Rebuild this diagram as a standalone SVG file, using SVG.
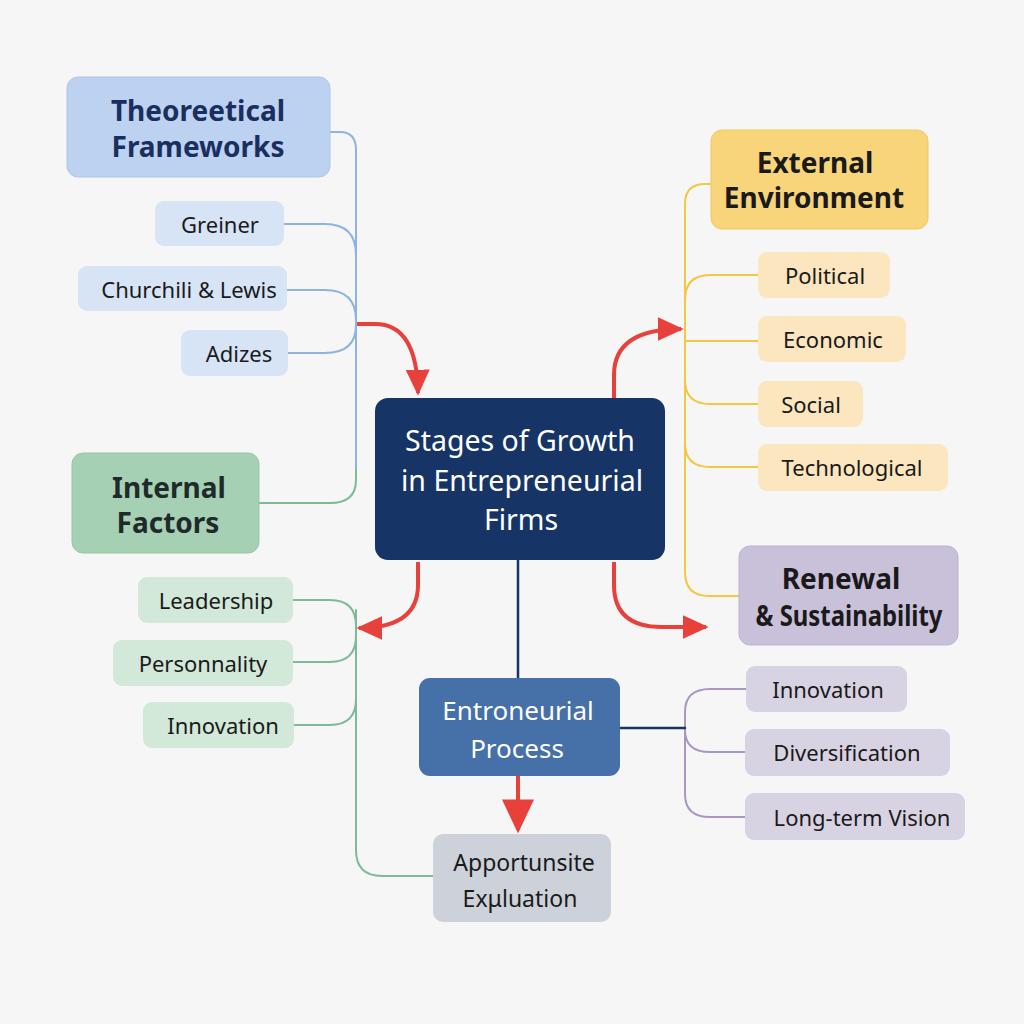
<svg xmlns="http://www.w3.org/2000/svg" width="1024" height="1024" viewBox="0 0 1024 1024">
<defs>
<style>
text{font-family:"Noto Sans","Open Sans","Liberation Sans",sans-serif;text-anchor:middle;dominant-baseline:central}
.h{font-size:28px;font-weight:bold}
.s{font-size:22px;fill:#1a1a1a}
.c{fill:none;stroke-width:2;stroke-linecap:round}
.blue{stroke:#8fb3e0}.green{stroke:#7dbb96}.yellow{stroke:#f3c744}.purple{stroke:#a897c2}.navy{stroke:#163566;stroke-width:2.5}
.red{fill:none;stroke:#e8403a;stroke-width:4}
</style>
<marker id="ah" viewBox="0 0 10 10" refX="9" refY="5" markerWidth="6.5" markerHeight="6" markerUnits="strokeWidth" orient="auto" preserveAspectRatio="none">
<path d="M0,0 L10,5 L0,10 z" fill="#e8403a"/>
</marker>
<marker id="ahs" viewBox="0 0 10 10" refX="9" refY="5" markerWidth="8.5" markerHeight="8" markerUnits="strokeWidth" orient="auto" preserveAspectRatio="none">
<path d="M0,0 L10,5 L0,10 z" fill="#e8403a"/>
</marker>
</defs>
<rect width="1024" height="1024" fill="#f6f6f6"/>
<g id="connectors">
<path class="c blue" d="M330,132 H340 Q356,132 356,150 V480"/>
<path class="c blue" d="M284,224 H325 Q356,224 356,255"/>
<path class="c blue" d="M287,290 H325 Q356,290 356,320"/>
<path class="c blue" d="M288,353 H325 Q356,353 356,325"/>
<path class="c green" d="M356,470 V480 Q356,503 330,503 H259"/>
<path class="c green" d="M293,600 H330 Q356,600 356,626"/>
<path class="c green" d="M293,662 H330 Q356,662 356,636"/>
<path class="c green" d="M294,725 H330 Q356,725 356,699"/>
<path class="c green" d="M356,610 V850 Q356,876 382,876 H433"/>
<path class="c yellow" d="M711,184 H705 Q685,184 685,204 V572 Q685,596 709,596 H739"/>
<path class="c yellow" d="M758,275 H710 Q685,275 685,300"/>
<path class="c yellow" d="M685,341 H758"/>
<path class="c yellow" d="M685,380 Q685,404 710,404 H758"/>
<path class="c yellow" d="M685,443 Q685,467 710,467 H758"/>
<path class="c purple" d="M747,689 H710 Q685,689 685,712 V794 Q685,817 710,817 H745"/>
<path class="c purple" d="M685,730 Q685,752 710,752 H745"/>
<path class="c navy" d="M518,560 V678"/>
<path class="c navy" d="M620,728 H685"/>
<path class="red" d="M357,324 H375 Q417,324 418,393" marker-end="url(#ah)"/>
<path class="red" d="M614,398 V375 Q614,329 681,329" marker-end="url(#ah)"/>
<path class="red" d="M418,562 V585 Q418,628 359,628" marker-end="url(#ah)"/>
<path class="red" d="M614,562 V585 Q614,627 662,627 H706" marker-end="url(#ah)"/>
<path class="red" d="M518,776 V830" stroke-width="2.5" marker-end="url(#ahs)"/>
</g>
<g id="theoretical">
<rect x="67" y="77" width="263" height="100" rx="11" fill="#bdd1f0" stroke="#aec6ea"/>
<text class="h" x="198" y="110" fill="#1b2f5e">Theoreetical</text>
<text class="h" x="198" y="146" fill="#1b2f5e">Frameworks</text>
</g>
<g id="greiner"><rect x="155" y="201" width="129" height="45" rx="9" fill="#d6e4f6"/><text class="s" x="220" y="224">Greiner</text></g>
<g id="churchill"><rect x="78" y="266" width="209" height="45" rx="9" fill="#d6e4f6"/><text class="s" x="189" y="289">Churchili &amp; Lewis</text></g>
<g id="adizes"><rect x="181" y="330" width="107" height="46" rx="9" fill="#d6e4f6"/><text class="s" x="239" y="353">Adizes</text></g>
<g id="internal">
<rect x="72" y="453" width="187" height="100" rx="11" fill="#a6d0b3" stroke="#98c6a6"/>
<text class="h" x="169" y="487" fill="#1f2a2a">Internal</text>
<text class="h" x="168" y="522" fill="#1f2a2a">Factors</text>
</g>
<g id="leadership"><rect x="138" y="577" width="155" height="46" rx="9" fill="#d2e8d8"/><text class="s" x="216" y="600">Leadership</text></g>
<g id="personnality"><rect x="113" y="640" width="180" height="46" rx="9" fill="#d2e8d8"/><text class="s" x="203" y="663">Personnality</text></g>
<g id="innovation-int"><rect x="143" y="702" width="151" height="46" rx="9" fill="#d2e8d8"/><text class="s" x="223" y="725">Innovation</text></g>
<g id="central">
<rect x="375" y="398" width="290" height="162" rx="13" fill="#163566"/>
<text x="520" y="440" font-size="28.5" fill="#ffffff">Stages of Growth</text>
<text x="522" y="480" font-size="28.5" fill="#ffffff">in Entrepreneurial</text>
<text x="521" y="519" font-size="28.5" fill="#ffffff">Firms</text>
</g>
<g id="process">
<rect x="419" y="678" width="201" height="98" rx="11" fill="#4570a8"/>
<text x="518" y="710" font-size="26" fill="#ffffff">Entroneurial</text>
<text x="517" y="748" font-size="26" fill="#ffffff">Process</text>
</g>
<g id="apportunsite">
<rect x="433" y="834" width="178" height="88" rx="10" fill="#cdd1d9"/>
<text x="524" y="862" font-size="23" fill="#1a1a1a">Apportunsite</text>
<text x="520" y="898" font-size="23" fill="#1a1a1a">Exμluation</text>
</g>
<g id="external">
<rect x="711" y="130" width="217" height="99" rx="11" fill="#f8d47a" stroke="#f3c95f"/>
<text class="h" x="815" y="162" fill="#1a1a1a">External</text>
<text class="h" x="814" y="197" fill="#1a1a1a">Environment</text>
</g>
<g id="political"><rect x="758" y="252" width="132" height="46" rx="9" fill="#fbe6c0"/><text class="s" x="825" y="275">Political</text></g>
<g id="economic"><rect x="758" y="316" width="148" height="46" rx="9" fill="#fbe6c0"/><text class="s" x="833" y="339">Economic</text></g>
<g id="social"><rect x="758" y="381" width="105" height="46" rx="9" fill="#fbe6c0"/><text class="s" x="811" y="404">Social</text></g>
<g id="technological"><rect x="758" y="444" width="190" height="47" rx="9" fill="#fbe6c0"/><text class="s" x="852" y="467">Technological</text></g>
<g id="renewal">
<rect x="739" y="546" width="219" height="99" rx="11" fill="#c9c0da" stroke="#bdb3d2"/>
<text class="h" x="841" y="578" fill="#1a1a1a">Renewal</text>
<text class="h" x="849" y="615" fill="#1a1a1a" textLength="187" lengthAdjust="spacingAndGlyphs">&amp; Sustainability</text>
</g>
<g id="innovation-ren"><rect x="746" y="666" width="161" height="46" rx="9" fill="#d8d3e3"/><text class="s" x="828" y="689">Innovation</text></g>
<g id="diversification"><rect x="745" y="729" width="205" height="47" rx="9" fill="#d8d3e3"/><text class="s" x="847" y="752">Diversification</text></g>
<g id="longterm"><rect x="745" y="793" width="220" height="47" rx="9" fill="#d8d3e3"/><text class="s" x="862" y="817">Long-term Vision</text></g>
</svg>
